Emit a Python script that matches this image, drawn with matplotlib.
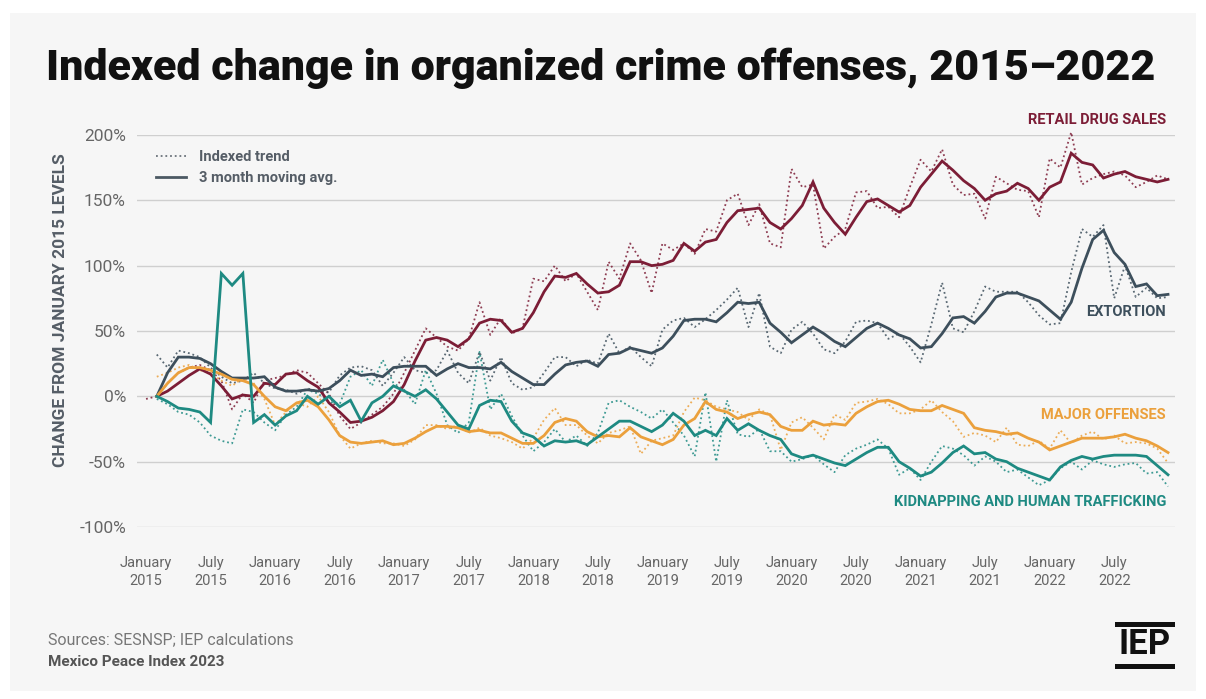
import numpy as np
import matplotlib.pyplot as plt
from matplotlib.lines import Line2D
from matplotlib.patches import Rectangle

plt.rcParams['font.family'] = ['Roboto', 'DejaVu Sans']

# monthly index, January 2015 = 0 ... December 2022 = 95
months = np.arange(96)
tick_pos = np.arange(0, 96, 6)
tick_labels = []
for yr in range(2015, 2023):
    tick_labels += ['January\n%d' % yr, 'July\n%d' % yr]

N = None
# indexed trend (dotted) and 3 month moving average (solid), % change from Jan 2015
retail_idx = [-2, 0, 10, 18, 22, 24, 20, 12, -10, 2, -5, 12,
              14, 16, 20, 18, 10, 2, -15, -25, -20, -14, -8, 2,
              18, 35, 52, 45, 38, 35, 44, 72, 47, 60, 48, 52,
              90, 88, 100, 88, 94, 80, 66, 103, 90, 117, 104, 79,
              117, 112, 117, 109, 128, 126, 150, 155, 131, 147, 117, 114,
              174, 160, 162, 113, 122, 128, 156, 157, 144, 145, 137, 160,
              181, 172, 189, 162, 154, 155, 136, 168, 163, 158, 157, 137,
              182, 175, 202, 162, 167, 170, 172, 169, 160, 164, 169, 166]
retail_avg = [N, 0, 4, 10, 16, 21, 17, 8, -2, 1, 0, 10,
              9, 17, 18, 12, 7, -5, -12, -20, -19, -16, -11, -4,
              9, 27, 43, 45, 43, 38, 44, 56, 59, 58, 49, 52,
              64, 80, 92, 91, 94, 86, 79, 80, 85, 103, 103, 100,
              101, 104, 117, 111, 118, 120, 133, 142, 143, 144, 133, 128,
              136, 146, 164, 144, 133, 124, 137, 149, 151, 146, 141, 146,
              160, 170, 180, 173, 165, 159, 150, 155, 157, 163, 159, 150,
              160, 164, 186, 179, 177, 167, 170, 172, 168, 166, 164, 166]

ext_idx = [N, 32, 22, 35, 33, 30, 22, 15, 10, 12, 18, 10,
           6, 5, 2, 6, 4, 3, 16, 22, 23, 20, 8, 18,
           30, 20, 18, 20, 35, 18, 10, 34, 12, 30, 10, 5,
           7, 18, 30, 30, 23, 28, 25, 48, 33, 38, 30, 23,
           51, 58, 60, 53, 59, 66, 74, 83, 53, 79, 38, 33,
           51, 57, 48, 36, 33, 42, 57, 58, 56, 44, 48, 38,
           26, 55, 87, 52, 49, 65, 84, 80, 80, 80, 72, 62,
           55, 56, 95, 128, 122, 131, 75, 100, 76, 83, 75, 76]
ext_avg = [N, 0, 18, 30, 30, 29, 25, 19, 14, 14, 14, 15,
           7, 4, 4, 5, 4, 6, 12, 20, 16, 17, 15, 22,
           23, 23, 23, 16, 21, 25, 22, 22, 21, 26, 19, 14,
           9, 9, 17, 24, 26, 27, 23, 32, 33, 37, 35, 33,
           37, 46, 58, 59, 59, 57, 64, 72, 71, 72, 56, 49,
           41, 47, 53, 48, 42, 38, 45, 52, 56, 52, 47, 44,
           37, 38, 48, 60, 61, 56, 65, 76, 79, 79, 76, 73,
           66, 59, 72, 98, 120, 127, 110, 101, 84, 86, 77, 78]

maj_idx = [N, 15, 18, 22, 24, 20, 18, 12, 8, 14, 10, -2,
           -22, -12, -5, -8, 0, -12, -30, -40, -36, -34, -36, -36,
           -38, -33, -22, -22, -25, -22, -28, -24, -30, -32, -35, -40,
           -32, -18, -9, -22, -22, -30, -36, -28, -26, -23, -44, -34,
           -32, -30, -12, -1, -3, -8, -10, -12, -18, -10, -14, -41,
           -20, -16, -24, -33, -14, -18, -5, -4, -2, -6, -13, -13,
           -10, -3, -12, -19, -31, -28, -30, -35, -24, -37, -38, -34,
           -40, -26, -36, -30, -27, -33, -30, -36, -35, -36, -40, -51]
maj_avg = [N, 0, 10, 18, 22, 22, 20, 17, 13, 12, 9, 0,
           -8, -11, -5, -3, -8, -18, -30, -35, -36, -35, -34, -37,
           -36, -32, -27, -23, -23, -24, -27, -26, -28, -28, -32, -36,
           -36, -30, -20, -17, -19, -27, -31, -30, -31, -24, -31, -34,
           -37, -33, -22, -17, -4, -10, -12, -17, -14, -12, -14, -23,
           -26, -26, -19, -22, -21, -22, -13, -8, -4, -3, -6, -10,
           -11, -11, -7, -10, -13, -24, -26, -27, -29, -28, -32, -35,
           -41, -38, -35, -32, -32, -32, -31, -29, -32, -34, -38, -43]

kid_idx = [N, -2, -6, -12, -14, -20, -30, -34, -36, -10, -12, -20,
           -26, -14, -8, 5, 2, -4, -6, 15, 20, 8, 28, 10,
           5, -6, 20, 2, -22, -28, -20, 34, -10, 2, -15, -30,
           -42, -35, -25, -35, -30, -38, -28, -5, -3, -8, -12, -17,
           -10, -20, -30, -46, 3, -50, -3, -29, -31, -25, -42, -42,
           -50, -48, -45, -52, -58, -45, -40, -37, -33, -40, -60, -55,
           -64, -50, -38, -40, -45, -53, -46, -50, -58, -56, -62, -68,
           -64, -55, -50, -56, -49, -52, -54, -52, -51, -59, -58, -69]
kid_avg = [N, 0, -4, -9, -10, -12, -20, 94, 85, 94, -20, -14,
           -22, -15, -11, 0, -6, 0, -8, -3, -19, -5, 0, 8,
           4, 0, 5, -2, -12, -22, -25, -7, -3, -4, -19, -28,
           -31, -38, -34, -35, -34, -37, -31, -25, -19, -19, -23, -27,
           -22, -13, -19, -30, -26, -30, -17, -26, -21, -26, -30, -33,
           -44, -47, -45, -48, -51, -53, -48, -43, -39, -39, -50, -55,
           -61, -58, -51, -43, -38, -44, -43, -48, -50, -55, -58, -61,
           -64, -54, -49, -46, -48, -46, -45, -45, -45, -46, -53, -60]

series = [
    ('RETAIL DRUG SALES', retail_idx, retail_avg, '#7c1d36'),
    ('EXTORTION', ext_idx, ext_avg, '#3d4f5c'),
    ('MAJOR OFFENSES', maj_idx, maj_avg, '#eba03c'),
    ('KIDNAPPING AND HUMAN TRAFFICKING', kid_idx, kid_avg, '#1e8a82'),
]

def arr(v):
    return np.array([np.nan if x is None else x for x in v], dtype=float)

bg = '#f6f6f6'
fig = plt.figure(figsize=(12.06, 6.99), dpi=100, facecolor='white')
fig.patches.append(Rectangle((0.008, 0.012), 0.984, 0.97, transform=fig.transFigure,
                             facecolor=bg, edgecolor='none', zorder=-10))

ax = fig.add_axes([0.1136, 0.246, 0.8607, 0.561])
ax.set_facecolor('none')

for name, idx, avg, col in series:
    ax.plot(months, arr(idx), color=col, lw=1.3, ls=(0, (1, 1.6)), alpha=0.85,
            clip_on=False, zorder=2)
for name, idx, avg, col in series:
    ax.plot(months, arr(avg), color=col, lw=2.0, clip_on=False, zorder=3,
            solid_joinstyle='miter')

ax.set_xlim(-0.84, 95.65)
ax.set_ylim(-100, 200)
ax.set_yticks([-100, -50, 0, 50, 100, 150, 200])
ax.set_yticklabels(['-100%', '-50%', '0%', '50%', '100%', '150%', '200%'])
ax.set_xticks(tick_pos)
ax.set_xticklabels(tick_labels, linespacing=1.3)
ax.grid(axis='y', color='#cfcfcf', lw=1.0)
ax.set_axisbelow(True)
for s in ax.spines.values():
    s.set_visible(False)
ax.tick_params(axis='y', length=0, pad=8, labelsize=12.5, labelcolor='#666666')
ax.tick_params(axis='x', length=0, pad=21, labelsize=10.5, labelcolor='#666666')

ax.set_ylabel('CHANGE FROM JANUARY 2015 LEVELS', fontsize=12.5, fontweight='bold',
              color='#555d66')
ax.yaxis.set_label_coords(-0.066, 0.554)

# series names at the right edge
label_y = {'RETAIL DRUG SALES': 120, 'EXTORTION': 312, 'MAJOR OFFENSES': 415,
           'KIDNAPPING AND HUMAN TRAFFICKING': 502}
for name, idx, avg, col in series:
    fig.text(1166 / 1206, 1 - label_y[name] / 699, name, ha='right', va='center',
             fontsize=10.5, fontweight='bold', color=col)

# legend
leg = [Line2D([0], [0], color='#6b737b', lw=1.3, ls=(0, (1, 1.6))),
       Line2D([0], [0], color='#4c5963', lw=2.0)]
ax.legend(leg, ['Indexed trend', '3 month moving avg.'], loc='upper left',
          bbox_to_anchor=(0.006, 0.995), frameon=False, handlelength=2.0,
          handletextpad=0.9, labelspacing=0.5,
          prop={'size': 10.5, 'weight': 'bold'}, labelcolor='#555d66')

fig.text(46 / 1206, 1 - 68 / 699, 'Indexed change in organized crime offenses, 2015\u20132022',
         ha='left', va='center', fontsize=31, fontweight='heavy', color='#111111')

fig.text(48 / 1206, 1 - 640 / 699, 'Sources: SESNSP; IEP calculations', ha='left',
         va='center', fontsize=11.5, color='#777777')
fig.text(48 / 1206, 1 - 662 / 699, 'Mexico Peace Index 2023', ha='left', va='center',
         fontsize=11, fontweight='bold', color='#555555')

# IEP mark
fig.patches.append(Rectangle((1115 / 1206, 1 - 627 / 699), 60 / 1206, 5 / 699,
                             transform=fig.transFigure, facecolor='#111111'))
fig.patches.append(Rectangle((1115 / 1206, 1 - 669 / 699), 60 / 1206, 5 / 699,
                             transform=fig.transFigure, facecolor='#111111'))
fig.text(1145 / 1206, 1 - 645 / 699, 'IEP', ha='center', va='center', fontsize=25,
         fontweight='bold', color='#111111')

fig.savefig('out.png', dpi=100, facecolor=fig.get_facecolor())
